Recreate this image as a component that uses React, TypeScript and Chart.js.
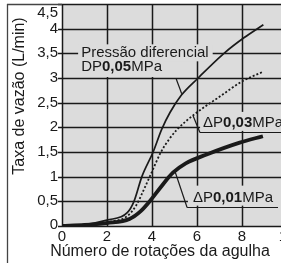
import { useEffect, useRef } from 'react';
import { Chart, registerables } from 'chart.js';

Chart.register(...registerables);

const FONT = '"Liberation Sans", Arial, Helvetica, sans-serif';
const INK = '#1a1a1a';
const PLOT_BG = '#dcdcdc';

// Data
const rotations05 = [0, 1, 2, 2.9, 3.2, 3.55, 4.05, 4.43, 4.8, 5.3, 6.05, 7.2, 8.1, 8.95];
const flow05 = [0, 0.03, 0.12, 0.27, 0.5, 1.0, 1.5, 1.96, 2.3, 2.65, 3.0, 3.5, 3.82, 4.08];

const rotations03 = [0, 1, 2, 2.9, 3.3, 3.6, 3.9, 4.4, 4.75, 5.1, 5.5, 5.9, 7, 8, 8.95];
const flow03 = [0, 0.02, 0.08, 0.2, 0.42, 0.7, 1.0, 1.5, 1.75, 1.95, 2.12, 2.27, 2.62, 2.93, 3.13];

const rotations01 = [0, 1, 2, 3, 3.5, 3.9, 4.36, 4.93, 5.5, 6.43, 7.9, 8.93];
const flow01 = [0, 0.02, 0.06, 0.14, 0.3, 0.5, 0.77, 1.08, 1.27, 1.45, 1.69, 1.82];

const xTickValues = [0, 2, 4, 6, 8, 10];
const yTickLabels = ['0', '0,5', '1', '1,5', '2', '2,5', '3', '3,5', '4', '4,5'];
const yTickValues = [0, 0.5, 1, 1.5, 2, 2.5, 3, 3.5, 4, 4.5];
const xTitle = 'Número de rotações da agulha';
const yTitle = 'Taxa de vazão (L/min)';
const labelPressao = 'Pressão diferencial';
const parts05: [string, boolean][] = [['DP', false], ['0,05', true], ['MPa', false]];
const parts03: [string, boolean][] = [['ΔP', false], ['0,03', true], ['MPa', false]];
const parts01: [string, boolean][] = [['ΔP', false], ['0,01', true], ['MPa', false]];

const toPts = (xs: number[], ys: number[]) => xs.map((x, i) => ({ x, y: ys[i] }));

function drawRich(ctx: CanvasRenderingContext2D, parts: [string, boolean][], x: number, y: number, size: number, measureOnly = false) {
  let cx = x;
  for (const [t, b] of parts) {
    ctx.font = `${b ? 'bold ' : ''}${size}px ${FONT}`;
    if (!measureOnly) ctx.fillText(t, cx, y);
    cx += ctx.measureText(t).width;
  }
  return cx - x;
}

function line(ctx: CanvasRenderingContext2D, x1: number, y1: number, x2: number, y2: number) {
  ctx.beginPath();
  ctx.moveTo(x1, y1);
  ctx.lineTo(x2, y2);
  ctx.stroke();
}

const annotPlugin = {
  id: 'annot',
  beforeDatasetsDraw(chart: any) {
    const { ctx, chartArea: a } = chart;
    const xs = chart.scales.x;
    const ys = chart.scales.y;
    const px = (v: number) => xs.getPixelForValue(v);
    const py = (v: number) => ys.getPixelForValue(v);
    const size = 15;
    ctx.save();
    // plot background
    ctx.fillStyle = PLOT_BG;
    ctx.fillRect(a.left, a.top, a.right - a.left, a.bottom - a.top);
    // grid from the scales
    ctx.strokeStyle = INK;
    ctx.lineWidth = 1.5;
    for (const v of yTickValues) {
      const y = Math.round(py(v)) + 0.5;
      line(ctx, a.left - 4, y, a.right, y);
    }
    for (const v of xTickValues) {
      const x = Math.round(px(v)) + 0.5;
      line(ctx, x, a.top, x, a.bottom);
    }
    ctx.lineWidth = 1.2;
    ctx.textBaseline = 'middle';
    ctx.textAlign = 'left';

    // Pressão diferencial / DP0,05MPa
    ctx.font = `${size}px ${FONT}`;
    const t1x = px(0.85);
    const t1y = py(3.5);
    const w1 = ctx.measureText(labelPressao).width;
    const t2y = py(3.23);
    const w2 = drawRich(ctx, parts05, t1x, t2y, size, true);
    ctx.fillStyle = PLOT_BG;
    ctx.fillRect(t1x - 3, t1y - 9, w1 + 7, 9 + 8);
    ctx.fillRect(t1x - 3, t1y + 7, w2 + 5, Math.round(py(3.0)) - 1 - (t1y + 7));
    ctx.fillStyle = INK;
    ctx.font = `${size}px ${FONT}`;
    ctx.fillText(labelPressao, t1x, t1y);
    drawRich(ctx, parts05, t1x, t2y, size);
    line(ctx, px(5.07), Math.round(py(3.0)) + 0.5, px(5.32), py(2.68));

    // ΔP0,03MPa
    const t3x = px(6.27);
    const t3y = py(2.09);
    const w3 = drawRich(ctx, parts03, t3x, t3y, size, true);
    ctx.fillStyle = PLOT_BG;
    ctx.fillRect(t3x - 3, t3y - 11, w3 + 10, 19);
    ctx.fillStyle = INK;
    drawRich(ctx, parts03, t3x, t3y, size);
    const u3 = Math.round(py(1.9)) + 0.5;
    line(ctx, px(5.82), py(2.24), px(6.13), u3);
    line(ctx, px(6.13), u3, px(10), u3);

    // ΔP0,01MPa
    const t5x = px(5.82);
    const t5y = py(0.575);
    const w5 = drawRich(ctx, parts01, t5x, t5y, size, true);
    ctx.fillStyle = PLOT_BG;
    ctx.fillRect(t5x - 5, t5y - 12, w5 + 13, 20);
    ctx.fillStyle = INK;
    drawRich(ctx, parts01, t5x, t5y, size);
    const u5 = Math.round(py(0.39)) + 0.5;
    line(ctx, px(5.02), py(1.11), px(5.56), u5);
    line(ctx, px(5.56), u5, px(9.6), u5);
    ctx.restore();
  },
  afterDraw(chart: any) {
    const { ctx, chartArea: a } = chart;
    const ys = chart.scales.y;
    ctx.save();
    // outer frame
    ctx.strokeStyle = '#444';
    ctx.lineWidth = 1.3;
    line(ctx, 7.5, a.top, 7.5, chart.height);
    line(ctx, 7, Math.round(a.top) + 0.5, a.left, Math.round(a.top) + 0.5);
    // y tick labels
    ctx.fillStyle = INK;
    ctx.font = `15px ${FONT}`;
    ctx.textAlign = 'right';
    ctx.textBaseline = 'middle';
    yTickValues.forEach((v, i) => {
      let y = ys.getPixelForValue(v);
      if (i === yTickValues.length - 1) y += 9;
      if (i === 0) y -= 1;
      ctx.fillText(yTickLabels[i], a.left - 4, y);
    });
    // titles
    ctx.font = `16px ${FONT}`;
    ctx.textAlign = 'center';
    ctx.fillText(xTitle, 160, 252);
    ctx.translate(20, 96);
    ctx.rotate(-Math.PI / 2);
    ctx.fillText(yTitle, 0, 0);
    ctx.restore();
  },
};

export default function App() {
  const ref = useRef<HTMLCanvasElement>(null);
  useEffect(() => {
    if (!ref.current) return;
    const chart = new Chart(ref.current, {
      type: 'line',
      data: {
        datasets: [
          {
            label: 'ΔP0,05MPa',
            data: toPts(rotations05, flow05),
            borderColor: INK,
            borderWidth: 1.7,
            pointRadius: 0,
            cubicInterpolationMode: 'monotone',
          },
          {
            label: 'ΔP0,03MPa',
            data: toPts(rotations03, flow03),
            borderColor: INK,
            borderWidth: 1.8,
            borderDash: [2, 2],
            pointRadius: 0,
            cubicInterpolationMode: 'monotone',
          },
          {
            label: 'ΔP0,01MPa',
            data: toPts(rotations01, flow01),
            borderColor: INK,
            borderWidth: 3.8,
            pointRadius: 0,
            cubicInterpolationMode: 'monotone',
          },
        ],
      },
      options: {
        animation: false,
        responsive: false,
        devicePixelRatio: 1,
        layout: { padding: { top: 4, left: 0, right: 13, bottom: 0 }, autoPadding: false },
        plugins: { legend: { display: false }, tooltip: { enabled: false } },
        scales: {
          x: {
            type: 'linear',
            min: 0,
            max: 10,
            ticks: { stepSize: 2, color: INK, font: { family: FONT, size: 15 }, padding: 2, maxRotation: 0 },
            grid: { display: false, drawTicks: false },
            border: { display: false },
            afterFit: (s: any) => { s.height = 37; },
          },
          y: {
            type: 'linear',
            min: 0,
            max: 4.5,
            ticks: { stepSize: 0.5, display: false },
            grid: { display: false, drawTicks: false },
            border: { display: false },
            afterFit: (s: any) => { s.width = 62; },
          },
        },
      },
      plugins: [annotPlugin],
    } as any);
    return () => chart.destroy();
  }, []);
  return (
    <div style={{ position: 'fixed', left: 0, top: 0, width: 281, height: 263, overflow: 'hidden', background: '#fff' }}>
      <canvas ref={ref} width={300} height={263} style={{ width: 300, height: 263, display: 'block' }} />
    </div>
  );
}
